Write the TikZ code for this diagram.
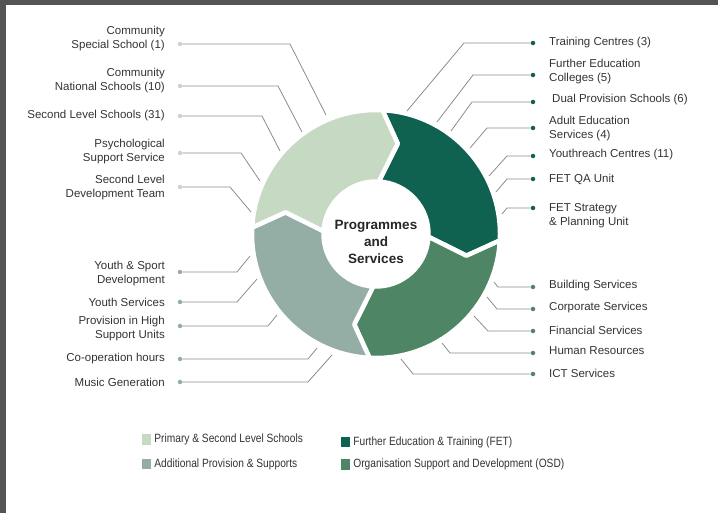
\documentclass[tikz,border=0pt]{standalone}
\usepackage{fontspec}
\setmainfont{Liberation Sans}
\newfontfamily\legendfont[FakeStretch=0.85]{Liberation Sans}
\usetikzlibrary{positioning}

\definecolor{primcol}{HTML}{C6D9C2}
\definecolor{addcol}{HTML}{94AEA5}
\definecolor{fetcol}{HTML}{106250}
\definecolor{osdcol}{HTML}{4E8665}
\definecolor{txtcol}{HTML}{333333}
\definecolor{leadcol}{HTML}{8C8C8C}
\definecolor{framecol}{HTML}{545454}

% one arrow shaped quarter of the ring: start angle, end angle, colour
\newcommand{\ringpart}[3]{%
  \fill[#3, draw=white, line width=4.5pt, line join=round]
    (#1:124) arc[start angle=#1, end angle=#2, radius=124]
    -- ({#2-10.5}:93) -- (#2:52.5)
    arc[start angle=#2, end angle=#1, radius=52.5]
    -- ({#1-10.5}:93) -- cycle;}

\begin{document}
\begin{tikzpicture}[x=1pt, y=-1pt,
  lbl/.style={font=\fontsize{11.5}{14}\selectfont, text=txtcol, inner sep=0pt},
  lleft/.style={lbl, anchor=east, align=right},
  lright/.style={lbl, anchor=west, align=left},
  dot/.style={circle, inner sep=0pt, minimum size=4.5pt},
  leader/.style={draw=leadcol, line width=0.8pt},
  key/.style={inner sep=0pt, minimum width=9pt, minimum height=10.5pt},
  keytext/.style={font=\legendfont\fontsize{12}{14}\selectfont, text=txtcol, inner sep=0pt}]
\useasboundingbox (0,0) rectangle (718,513);
\fill[framecol] (0,0) rectangle (718,5);
\fill[framecol] (0,0) rectangle (6,513);

% ring
\begin{scope}[shift={(376,234)}, yscale=-1]
\ringpart{87}{-3}{fetcol}
\ringpart{-3}{-93}{osdcol}
\ringpart{-93}{-183}{addcol}
\ringpart{177}{87}{primcol}
\end{scope}
\node[font=\fontsize{13.5}{17}\selectfont\bfseries, align=center, text=black!85, inner sep=0pt] (hub) at (376,242) {Programmes\\and\\Services};

% left side
\node[dot, fill=primcol] (l1) at (180,44) {};
\node[dot, fill=primcol] (l2) at (180,86) {};
\node[dot, fill=primcol] (l3) at (180,116) {};
\node[dot, fill=primcol] (l4) at (180,153) {};
\node[dot, fill=primcol] (l5) at (180,187) {};
\node[dot, fill=addcol] (l6) at (180,272) {};
\node[dot, fill=addcol] (l7) at (180,302) {};
\node[dot, fill=addcol] (l8) at (180,326) {};
\node[dot, fill=addcol] (l9) at (180,359) {};
\node[dot, fill=addcol] (l10) at (180,382) {};

\node[lleft] (t1) at (165,39) {Community\\Special School (1)};
\node[lleft] (t2) at (165,81) {Community\\National Schools (10)};
\node[lleft] (t3) at (165,116) {Second Level Schools (31)};
\node[lleft] (t4) at (165,152) {Psychological\\Support Service};
\node[lleft] (t5) at (165,188) {Second Level\\Development Team};
\node[lleft] (t6) at (165,274) {Youth \& Sport\\Development};
\node[lleft] (t7) at (165,302) {Youth Services};
\node[lleft] (t8) at (165,329) {Provision in High\\Support Units};
\node[lleft] (t9) at (165,359) {Co-operation hours};
\node[lleft] (t10) at (165,382) {Music Generation};

\coordinate (l1e) at (326,115);
\coordinate (l2e) at (302,132);
\coordinate (l3e) at (280,151);
\coordinate (l4e) at (260,181);
\coordinate (l5e) at (251,212);
\coordinate (l6e) at (250,256);
\coordinate (l7e) at (257,279);
\coordinate (l8e) at (277,315);
\coordinate (l9e) at (317,348);
\coordinate (l10e) at (332,355);

\draw[leader] (l1) -- (l1 -| 290,0) -- (l1e);
\draw[leader] (l2) -- (l2 -| 278,0) -- (l2e);
\draw[leader] (l3) -- (l3 -| 262,0) -- (l3e);
\draw[leader] (l4) -- (l4 -| 241,0) -- (l4e);
\draw[leader] (l5) -- (l5 -| 230,0) -- (l5e);
\draw[leader] (l6) -- (l6 -| 237,0) -- (l6e);
\draw[leader] (l7) -- (l7 -| 237,0) -- (l7e);
\draw[leader] (l8) -- (l8 -| 268,0) -- (l8e);
\draw[leader] (l9) -- (l9 -| 308,0) -- (l9e);
\draw[leader] (l10) -- (l10 -| 308,0) -- (l10e);

% right side
\node[dot, fill=fetcol] (r1) at (533,43) {};
\node[dot, fill=fetcol] (r2) at (533,75) {};
\node[dot, fill=fetcol] (r3) at (533,102) {};
\node[dot, fill=fetcol] (r4) at (533,128) {};
\node[dot, fill=fetcol] (r5) at (533,156) {};
\node[dot, fill=fetcol] (r6) at (533,179) {};
\node[dot, fill=fetcol] (r7) at (533,208) {};
\node[dot, fill=osdcol] (r8) at (533,287) {};
\node[dot, fill=osdcol] (r9) at (533,309) {};
\node[dot, fill=osdcol] (r10) at (533,331) {};
\node[dot, fill=osdcol] (r11) at (533,353) {};
\node[dot, fill=osdcol] (r12) at (533,374) {};

\node[lright] (s1) at (549,43) {Training Centres (3)};
\node[lright] (s2) at (549,72) {Further Education\\Colleges (5)};
\node[lright] (s3) at (552,100) {Dual Provision Schools (6)};
\node[lright] (s4) at (549,129) {Adult Education\\Services (4)};
\node[lright] (s5) at (549,155) {Youthreach Centres (11)};
\node[lright] (s6) at (549,179) {FET QA Unit};
\node[lright] (s7) at (549,216) {FET Strategy\\\& Planning Unit};
\node[lright] (s8) at (549,286) {Building Services};
\node[lright] (s9) at (549,308) {Corporate Services};
\node[lright] (s10) at (549,330) {Financial Services};
\node[lright] (s11) at (549,351) {Human Resources};
\node[lright] (s12) at (549,373) {ICT Services};

\coordinate (r1e) at (407,111);
\coordinate (r2e) at (437,122);
\coordinate (r3e) at (451,131);
\coordinate (r4e) at (470,148);
\coordinate (r5e) at (489,176);
\coordinate (r6e) at (496,192);
\coordinate (r7e) at (502,214);
\coordinate (r8e) at (494,282);
\coordinate (r9e) at (487,297);
\coordinate (r10e) at (474,316);
\coordinate (r11e) at (442,343);
\coordinate (r12e) at (401,359);

\draw[leader] (r1) -- (r1 -| 464,0) -- (r1e);
\draw[leader] (r2) -- (r2 -| 473,0) -- (r2e);
\draw[leader] (r3) -- (r3 -| 472,0) -- (r3e);
\draw[leader] (r4) -- (r4 -| 487,0) -- (r4e);
\draw[leader] (r5) -- (r5 -| 507,0) -- (r5e);
\draw[leader] (r6) -- (r6 -| 507,0) -- (r6e);
\draw[leader] (r7) -- (r7 -| 507,0) -- (r7e);
\draw[leader] (r8) -- (r8 -| 498,0) -- (r8e);
\draw[leader] (r9) -- (r9 -| 497,0) -- (r9e);
\draw[leader] (r10) -- (r10 -| 488,0) -- (r10e);
\draw[leader] (r11) -- (r11 -| 450,0) -- (r11e);
\draw[leader] (r12) -- (r12 -| 413,0) -- (r12e);

% legend
\node[key, fill=primcol] (k1) at (146.5,439.5) {};
\node[keytext, right=3pt of k1] (k1t) {Primary \& Second Level Schools};
\node[key, fill=addcol] (k2) at (146.5,464) {};
\node[keytext, right=3pt of k2] (k2t) {Additional Provision \& Supports};
\node[key, fill=fetcol] (k3) at (345.5,442) {};
\node[keytext, right=3pt of k3] (k3t) {Further Education \& Training (FET)};
\node[key, fill=osdcol] (k4) at (345.5,464.5) {};
\node[keytext, right=3pt of k4] (k4t) {Organisation Support and Development (OSD)};
\end{tikzpicture}
\end{document}
